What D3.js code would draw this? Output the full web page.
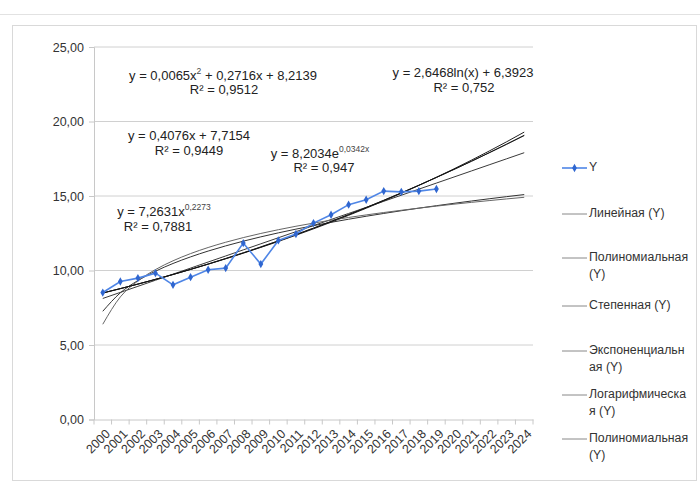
<!DOCTYPE html>
<html>
<head>
<meta charset="utf-8">
<script src="https://cdn.jsdelivr.net/npm/d3@7"></script>
<style>
  body { margin: 0; background: #fff; }
  svg { display: block; font-family: "Liberation Sans", Arial, sans-serif; }
</style>
</head>
<body>
<svg id="chart" width="700" height="482"></svg>
<script>
// ---- data ----
const years = ["2000","2001","2002","2003","2004","2005","2006","2007","2008","2009","2010","2011","2012",
               "2013","2014","2015","2016","2017","2018","2019","2020","2021","2022","2023","2024"];
const seriesY = [8.52, 9.26, 9.49, 9.82, 9.04, 9.55, 10.05, 10.16, 11.84, 10.43, 12.02, 12.45, 13.18,
                 13.74, 14.42, 14.75, 15.33, 15.28, 15.33, 15.47];
const yTicks = [0, 5, 10, 15, 20, 25];
// trendline coefficients as displayed on the chart
const linearCoef = [0.4076, 7.7154];
const polyCoef = [0.0065, 0.2716, 8.2139];
const powerCoef = [7.2631, 0.2273];
const expCoef = [8.2034, 0.0342];
const logCoef = [2.6468, 6.3923];
const legendLabels = [["Y"], ["Линейная (Y)"], ["Полиномиальная", "(Y)"], ["Степенная (Y)"],
                      ["Экспоненциальн", "ая (Y)"], ["Логарифмическа", "я (Y)"], ["Полиномиальная", "(Y)"]];

const trendFns = [
  {name: "lin", f: x => linearCoef[0] * x + linearCoef[1], color: "#3a3a3a"},
  {name: "poly", f: x => polyCoef[0] * x * x + polyCoef[1] * x + polyCoef[2], color: "#555"},
  {name: "pow", f: x => powerCoef[0] * Math.pow(x, powerCoef[1]), color: "#333"},
  {name: "exp", f: x => expCoef[0] * Math.exp(expCoef[1] * x), color: "#222"},
  {name: "log", f: x => logCoef[0] * Math.log(x) + logCoef[1], color: "#666"},
  {name: "poly2", f: x => polyCoef[0] * x * x + polyCoef[1] * x + polyCoef[2], color: "#111"}
];

const svg = d3.select("#chart");

// outer decorations
svg.append("line").attr("x1", 0).attr("x2", 700).attr("y1", 14.5).attr("y2", 14.5)
  .attr("stroke", "#e2e2e2").attr("stroke-width", 1);
svg.append("rect").attr("x", 12.5).attr("y", 25.5).attr("width", 684).attr("height", 455)
  .attr("fill", "#fff").attr("stroke", "#d9d9d9");

const plot = {left: 94, right: 533, top: 47, bottom: 419.5};

const x = d3.scaleBand().domain(years).range([plot.left, plot.right]);
const y = d3.scaleLinear().domain([0, 25]).range([plot.bottom, plot.top]);
const cx = d => x(d) + x.bandwidth() / 2;

// gridlines
svg.append("g").selectAll("line").data(yTicks.filter(t => t > 0)).join("line")
  .attr("x1", plot.left).attr("x2", plot.right)
  .attr("y1", d => y(d)).attr("y2", d => y(d))
  .attr("stroke", "#d0d0d0").attr("stroke-width", 1);

// y axis
const yAxis = d3.axisLeft(y).tickValues(yTicks).tickSize(5)
  .tickFormat(d => d3.format(".2f")(d).replace(".", ","));
const gy = svg.append("g").attr("transform", `translate(${plot.left},0)`).call(yAxis);
gy.select(".domain").attr("stroke", "#c8c8c8");
gy.selectAll(".tick line").attr("stroke", "#c8c8c8");
gy.selectAll(".tick text").attr("font-size", 12.5).attr("fill", "#333").attr("x", -10)
  .style("font-family", "'Liberation Sans', Arial, sans-serif");

// x axis
const xAxis = d3.axisBottom(x).tickSize(0);
const gx = svg.append("g").attr("transform", `translate(0,${plot.bottom})`).call(xAxis);
gx.select(".domain").attr("stroke", "#c8c8c8");
gx.selectAll(".tick line").remove();
// tick marks at band edges
svg.append("g").selectAll("line").data(years.concat(["end"])).join("line")
  .attr("x1", (d, i) => plot.left + i * x.step()).attr("x2", (d, i) => plot.left + i * x.step())
  .attr("y1", plot.bottom).attr("y2", plot.bottom + 5)
  .attr("stroke", "#c8c8c8");
gx.selectAll(".tick text")
  .attr("font-size", 12.5).attr("fill", "#333")
  .style("font-family", "'Liberation Sans', Arial, sans-serif")
  .attr("text-anchor", "end")
  .attr("dy", "0.35em").attr("y", 0)
  .attr("transform", "translate(5,12) rotate(-45)");

// trendlines
const xsIdx = d3.range(1, years.length + 1);
const line = d3.line().x(d => cx(years[d[0] - 1])).y(d => y(d[1])).curve(d3.curveMonotoneX);
trendFns.forEach(t => {
  svg.append("path").datum(xsIdx.map(i => [i, t.f(i)]))
    .attr("d", line).attr("fill", "none").attr("stroke", t.color).attr("stroke-width", 1);
});

// data series
const dataPts = seriesY.map((v, i) => [years[i], v]);
svg.append("path").datum(dataPts)
  .attr("d", d3.line().x(d => cx(d[0])).y(d => y(d[1])))
  .attr("fill", "none").attr("stroke", "#4f86e6").attr("stroke-width", 1.6);
svg.append("g").selectAll("path").data(dataPts).join("path")
  .attr("transform", d => `translate(${cx(d[0])},${y(d[1])})`)
  .attr("d", d3.symbol(d3.symbolDiamond, 20))
  .attr("fill", "#2f66d0");

// equation labels
const eqFont = 13;
function eqLabel(cxp, cyp, parts) {
  const t = svg.append("text").attr("x", cxp).attr("y", cyp).attr("text-anchor", "middle")
    .attr("font-size", eqFont).attr("fill", "#222").attr("dominant-baseline", "middle");
  parts.forEach(p => {
    const ts = t.append("tspan").text(p.t);
    if (p.sup) ts.attr("font-size", 8.5).attr("dy", -5).attr("fill", "#444");
    if (p.down) ts.attr("dy", 5);
  });
}
eqLabel(223, 77, [{t: "y = 0,0065x"}, {t: "2", sup: true}, {t: " + 0,2716x + 8,2139", down: true}]);
eqLabel(224, 91, [{t: "R² = 0,9512"}]);
eqLabel(189, 137, [{t: "y = 0,4076x + 7,7154"}]);
eqLabel(189, 152, [{t: "R² = 0,9449"}]);
eqLabel(320, 155, [{t: "y = 8,2034e"}, {t: "0,0342x", sup: true}]);
eqLabel(324, 169, [{t: "R² = 0,947"}]);
eqLabel(164, 213, [{t: "y = 7,2631x"}, {t: "0,2273", sup: true}]);
eqLabel(158, 228, [{t: "R² = 0,7881"}]);
eqLabel(463, 74, [{t: "y = 2,6468ln(x) + 6,3923"}]);
eqLabel(464, 89, [{t: "R² = 0,752"}]);

// legend
const legY = [168, 214, 258, 306, 351, 395, 439];
const lg = svg.append("g");
legendLabels.forEach((lab, i) => {
  const yy = legY[i];
  if (i === 0) {
    lg.append("line").attr("x1", 562).attr("x2", 587).attr("y1", yy).attr("y2", yy)
      .attr("stroke", "#4f86e6").attr("stroke-width", 1.6);
    lg.append("path").attr("transform", `translate(574.5,${yy})`)
      .attr("d", d3.symbol(d3.symbolDiamond, 20)).attr("fill", "#2f66d0");
  } else {
    lg.append("line").attr("x1", 562).attr("x2", 587).attr("y1", yy).attr("y2", yy)
      .attr("stroke", "#888").attr("stroke-width", 1);
  }
  const t = lg.append("text").attr("x", 589).attr("y", yy).attr("font-size", 12.3)
    .attr("fill", "#333").attr("dominant-baseline", "middle");
  lab.forEach((s, j) => {
    t.append("tspan").attr("x", 589).attr("dy", j === 0 ? 0 : 16.5).text(s);
  });
});
</script>
</body>
</html>
